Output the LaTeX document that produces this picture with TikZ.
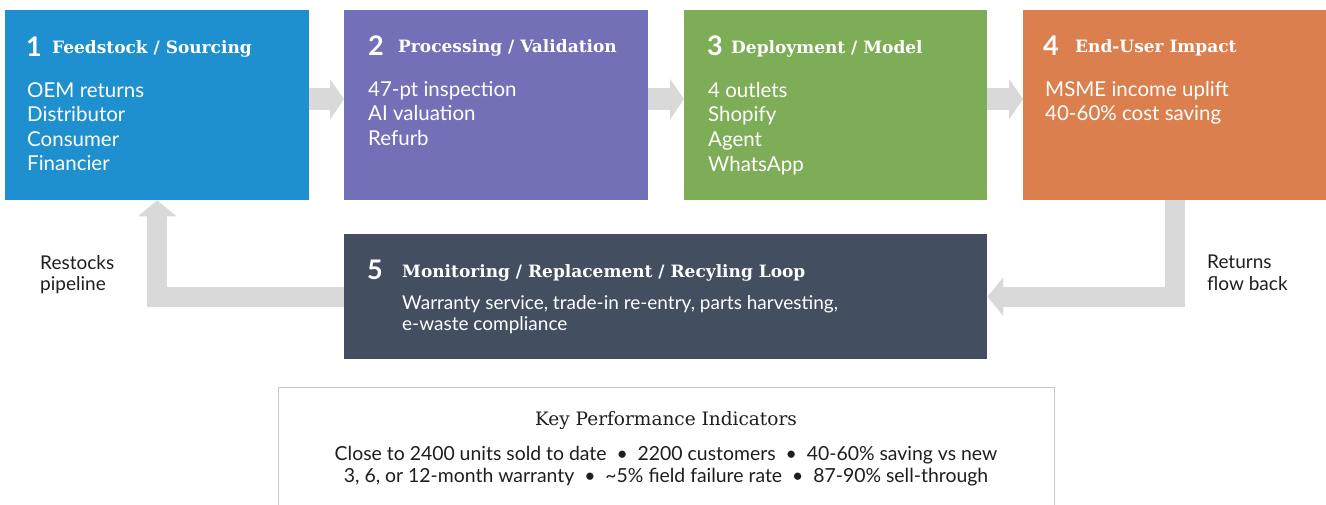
\documentclass[tikz,border=0pt]{standalone}
\usepackage{fontspec}
\setmainfont{Lato}
\newfontfamily\slabfont{DejaVu Serif}
\usetikzlibrary{arrows.meta,positioning,calc}

\definecolor{feedblue}{HTML}{1F90CF}
\definecolor{procpurple}{HTML}{7470B7}
\definecolor{deploygreen}{HTML}{7EAD57}
\definecolor{impactorange}{HTML}{DB7F4E}
\definecolor{loopslate}{HTML}{434F61}
\definecolor{arrowgray}{HTML}{D9D9D9}
\definecolor{kpiborder}{HTML}{C8C8C8}
\definecolor{labeldark}{HTML}{1E1E1E}

\tikzset{
  stagebox/.style={draw=none, anchor=north west, inner sep=0pt,
    minimum width=304pt, minimum height=190pt},
  numtxt/.style={text=white, anchor=base west, inner sep=0pt,
    font=\bfseries\fontsize{27}{30}\selectfont},
  headtxt/.style={text=white, anchor=base west, inner sep=0pt,
    font=\slabfont\bfseries\fontsize{17}{20}\selectfont},
  bodytxt/.style={text=white, anchor=north west, inner sep=0pt, align=left,
    font=\fontsize{20.5}{24.6}\selectfont},
  flowarrow/.style={draw=arrowgray, line width=22pt,
    -{Triangle[width=40pt,length=14pt]}},
  backarrow/.style={draw=arrowgray, line width=20pt, line join=miter,
    -{Triangle[width=38pt,length=16pt]}},
  sidetxt/.style={text=labeldark, anchor=north west, inner sep=0pt, align=left,
    font=\fontsize{19}{21.5}\selectfont}
}

\begin{document}
\begin{tikzpicture}[x=1pt, y=-1pt]
    \useasboundingbox (0,0) rectangle (1326,504);
    \clip (0,0) rectangle (1326,504);

    % --- le quattro fasi in alto ---
    \node[stagebox, fill=feedblue] (feed) at (5,10) {};
    \node[stagebox, fill=procpurple] (proc) at (344,10) {};
    \node[stagebox, fill=deploygreen, minimum width=303pt] (deploy) at (684,10) {};
    \node[stagebox, fill=impactorange, minimum width=303pt] (impact) at (1023,10) {};

    % titoli
    \node[numtxt] (n1) at (26,56) {1};
    \node[headtxt] (h1) at (52,53) {Feedstock / Sourcing};
    \node[numtxt] (n2) at (368,55) {2};
    \node[headtxt] (h2) at (398,52) {Processing / Validation};
    \node[numtxt] (n3) at (707,55) {3};
    \node[headtxt] (h3) at (731,53) {Deployment / Model};
    \node[numtxt] (n4) at (1043,55) {4};
    \node[headtxt] (h4) at (1075,52) {End-User Impact};

    % testo delle fasi
    \node[bodytxt] (b1) at (27,82) {OEM returns\\Distributor\\Consumer\\Financier};
    \node[bodytxt] (b2) at (368,81) {47-pt inspection\\AI valuation\\Refurb};
    \node[bodytxt] (b3) at (708,82) {4 outlets\\Shopify\\Agent\\WhatsApp};
    \node[bodytxt] (b4) at (1045,81) {MSME income uplift\\40-60\% cost saving};

    % frecce tra le fasi
    \draw[flowarrow] ([yshift=6pt]feed.east) -- ([yshift=6pt]proc.west);
    \draw[flowarrow] ([yshift=6pt]proc.east) -- ([yshift=6pt]deploy.west);
    \draw[flowarrow] ([yshift=6pt]deploy.east) -- ([yshift=6pt]impact.west);

    % --- il ciclo di ritorno ---
    \node[stagebox, fill=loopslate, minimum width=643pt, minimum height=125pt] (loop) at (344,234) {};
    \node[numtxt] (n5) at (367,279) {5};
    \node[headtxt] (h5) at (402,277) {Monitoring / Replacement / Recyling Loop};
    \node[bodytxt, font=\fontsize{19}{21.5}\selectfont] (b5) at (402,295)
        {Warranty service, trade-in re-entry, parts harvesting,\\e-waste compliance};

    \draw[backarrow] (impact.south) |- (loop.east);
    \draw[backarrow] (loop.west) -| (feed.south);

    \node[sidetxt] (restock) at (40,255) {Restocks\\pipeline};
    \node[sidetxt] (returns) at (1207,255) {Returns\\flow back};

    % --- riquadro KPI ---
    \node[draw=kpiborder, line width=1pt, anchor=north west, inner sep=0pt,
        minimum width=776pt, minimum height=140pt] (kpi) at (278,387) {};
    \node[text=labeldark, font=\slabfont\fontsize{18.5}{20}\selectfont] (kpititle)
        at (666,421) {Key Performance Indicators};
    \node[text=labeldark, align=center, font=\fontsize{19.4}{22}\selectfont] (kpilist)
        at (666,466) {Close to 2400 units sold to date \ \textbullet\ \ 2200 customers \ \textbullet\ \ 40-60\% saving vs new\\
        3, 6, or 12-month warranty \ \textbullet\ \ \textasciitilde5\% field failure rate \ \textbullet\ \ 87-90\% sell-through};
\end{tikzpicture}
\end{document}
